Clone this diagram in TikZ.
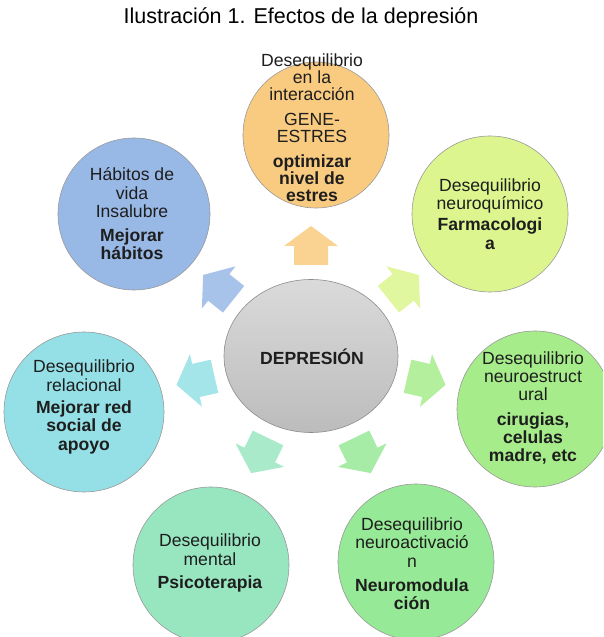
\documentclass[tikz,border=0pt]{standalone}
\usepackage{fontspec}
\setmainfont{Liberation Sans}
\usetikzlibrary{shapes.geometric}
\definecolor{cTop}{RGB}{249,203,128}
\definecolor{cUR}{RGB}{220,245,142}
\definecolor{cR}{RGB}{166,236,138}
\definecolor{cLR}{RGB}{150,233,150}
\definecolor{cLL}{RGB}{152,230,192}
\definecolor{cL}{RGB}{148,224,230}
\definecolor{cUL}{RGB}{152,184,230}
\definecolor{txt}{RGB}{30,30,30}
\begin{document}
\begin{tikzpicture}[x=1pt,y=1pt,
  bubble/.style={circle, draw=black!40, line width=0.6pt, inner sep=0pt, minimum size=#1},
  bubtext/.style={align=center, text=txt, font=\fontsize{17.6}{18.3}\selectfont, inner sep=0pt},
  title/.style={font=\fontsize{21.5}{24}\selectfont, text=black, inner sep=0pt}]
\useasboundingbox (0,0) rectangle (603,637);
\node[title] (title) at (301,619) {Ilustración 1. Efectos de la depresión};
\begin{scope}
\clip (0,0) rectangle (603,637);
% outer circles
\node[bubble=146, fill=cTop] (ctop) at (316,502) {};
\node[bubble=156, fill=cUR] (cur) at (490,423) {};
\node[bubble=156, fill=cR] (cr) at (535,228) {};
\node[bubble=156, fill=cLR] (clr) at (416,75) {};
\node[bubble=156, fill=cLL] (cll) at (211,72) {};
\node[bubble=160, fill=cL] (cl) at (84,225) {};
\node[bubble=152, fill=cUL] (cul) at (134,423) {};
% centre
\node[ellipse, draw=black!45, line width=0.6pt, top color={rgb,255:red,218;green,218;blue,218}, bottom color={rgb,255:red,188;green,188;blue,188}, minimum width=174, minimum height=153, inner sep=0pt] (dep) at (311,281) {};
\node[bubtext, font=\fontsize{17.6}{18}\selectfont\bfseries] (deptext) at (312,280) {DEPRESIÓN};
% block arrows
\foreach \ang/\col in {90/cTop, 38.57/cUR, -12.86/cR, -64.29/cLR, -115.71/cLL, -167.14/cL, 141.43/cUL}{
  \fill[\col!85!white, shift={({311+118*cos(\ang)},{281+110*sin(\ang)})}, rotate=\ang]
    (-19,17) -- (0,17) -- (0,27) -- (20,0) -- (0,-27) -- (0,-17) -- (-19,-17) -- cycle;
}
% texts
\node[bubtext, font=\fontsize{17.6}{17.2}\selectfont] (ttop) at (312,509) {Desequilibrio\\en la\\interacción\\[7pt]GENE-\\ESTRES\\[8pt]\textbf{optimizar}\\\textbf{nivel de}\\\textbf{estres}};
\node[bubtext] (tur) at (490,423) {Desequilibrio\\neuroquímico\\[3pt]\textbf{Farmacologi}\\\textbf{a}};
\node[bubtext] (tr) at (533,229) {Desequilibrio\\neuroestruct\\ural\\[6pt]\textbf{cirugias,}\\\textbf{celulas}\\\textbf{madre, etc}};
\node[bubtext] (tlr) at (412,73) {Desequilibrio\\neuroactivació\\n\\[6pt]\textbf{Neuromodula}\\\textbf{ción}};
\node[bubtext] (tll) at (210,74) {Desequilibrio\\mental\\[5pt]\textbf{Psicoterapia}};
\node[bubtext] (tl) at (84,230) {Desequilibrio\\relacional\\[4pt]\textbf{Mejorar red}\\\textbf{social de}\\\textbf{apoyo}};
\node[bubtext] (tul) at (132,423) {Hábitos de\\vida\\Insalubre\\[6pt]\textbf{Mejorar}\\\textbf{hábitos}};
\end{scope}
\end{tikzpicture}
\end{document}
